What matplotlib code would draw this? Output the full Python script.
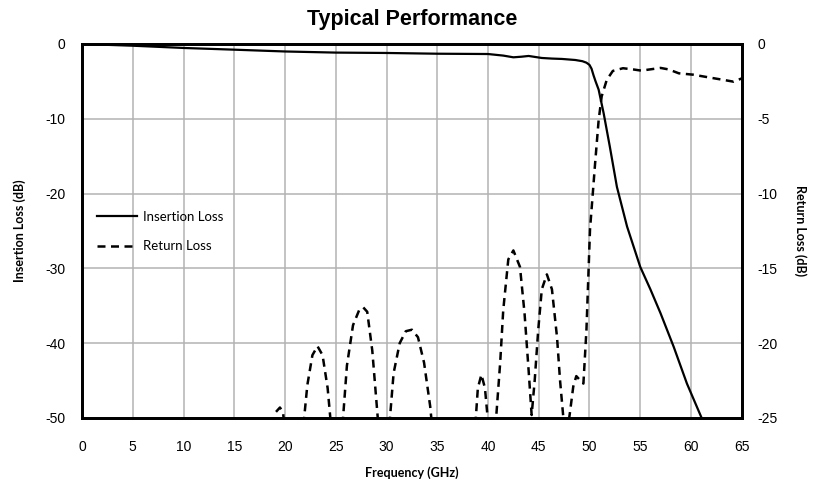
import numpy as np
import matplotlib
matplotlib.use('Agg')
import matplotlib.pyplot as plt

# insertion loss (left axis, dB)
il_freq = [0, 5, 10, 15, 20, 25, 30, 35, 40, 41.5, 42.5, 43.3, 44, 45.3, 46.3, 47.3, 48.6, 49.3, 49.7,
           50.0, 50.2, 50.4, 50.6, 50.9, 51.4, 52.0, 52.7, 53.7, 55.0, 56.0, 57.0, 58.3, 59.6, 61.05, 61.5]
il_db = [0, -0.23, -0.53, -0.76, -1.0, -1.15, -1.2, -1.3, -1.34, -1.55, -1.78, -1.7, -1.6, -1.87, -1.95,
         -2.0, -2.14, -2.3, -2.5, -2.8, -3.3, -4.2, -5.0, -6.1, -9.3, -13.7, -19.1, -24.4, -29.8, -32.8,
         -36.0, -40.5, -45.4, -50.0, -51.5]

# return loss (right axis, dB)
rl_freq = [0, 18.0, 18.7, 19.1, 19.5, 19.8, 20.1, 21.0,
           21.6, 22.2, 22.7, 23.2, 23.7, 24.2, 24.6, 25.2,
           25.5, 26.1, 26.7, 27.3, 27.7, 28.1, 28.6, 29.2, 29.5, 30.0,
           30.1, 30.7, 31.3, 31.9, 32.5, 33.1, 33.7, 34.3, 34.7, 36.0,
           38.3, 38.7, 39.0, 39.35, 39.7, 40.1, 40.5,
           40.8, 41.2, 41.5, 42.0, 42.5, 43.15, 43.6, 44.0, 44.3,
           44.6, 44.95, 45.3, 45.8, 46.3, 46.8, 47.1, 47.4, 47.7,
           48.1, 48.4, 48.7, 49.1, 49.4, 49.7, 50.05, 50.55, 50.9, 51.2, 51.7,
           52.3, 53.3, 54.3, 55.1, 57.0, 57.8, 58.8, 60.2, 61.9, 63.2, 64.2, 65.0]
rl_db = [-32, -30, -26, -24.6, -24.3, -24.6, -26.5, -32,
         -27, -22.8, -20.8, -20.2, -20.8, -23.0, -26, -30,
         -27, -21.5, -18.8, -17.8, -17.6, -17.9, -20.5, -25.5, -28, -30,
         -27, -22, -20, -19.2, -19.1, -19.6, -21.3, -24.2, -27, -35,
         -30, -26, -23, -22.1, -23, -26, -28,
         -25, -21.3, -17.8, -14.4, -13.8, -14.9, -18.0, -21.8, -24.8,
         -22.5, -19.1, -16.4, -15.4, -16.4, -19.6, -22.5, -24.8, -26.5,
         -24.5, -22.9, -22.2, -22.5, -22.7, -19.1, -12.4, -8.0, -5.1, -3.5, -2.4,
         -1.8, -1.62, -1.7, -1.78, -1.6, -1.7, -1.96, -2.05, -2.25, -2.4, -2.52, -2.3]

freq_ticks = np.arange(0, 66, 5)
il_ticks = np.arange(-50, 1, 10)
rl_ticks = np.arange(-25, 1, 5)

fig = plt.figure(figsize=(8.16, 4.91), dpi=100)
ax = fig.add_axes([0.1005, 0.1487, 0.8085, 0.7617])
ax2 = ax.twinx()

tick_font = {'family': 'Liberation Sans', 'size': 10}
label_font = {'family': 'Lato', 'size': 9, 'weight': 'bold'}

ax.plot(il_freq, il_db, color='black', lw=1.6, label='Insertion Loss', zorder=3)
ax2.plot(rl_freq, rl_db, color='black', lw=1.8, dashes=(3.2, 2.2), label='Return Loss')

ax.set_xlim(0, 65)
ax.set_ylim(-50, 0)
ax2.set_ylim(-25, 0)
ax.set_xticks(freq_ticks)
ax.set_yticks(il_ticks)
ax2.set_yticks(rl_ticks)
ax.set_xticklabels([str(t) for t in freq_ticks], fontdict=tick_font)
ax.set_yticklabels([str(t) for t in il_ticks], fontdict=tick_font)
ax2.set_yticklabels([str(t) for t in rl_ticks], fontdict=tick_font)
ax.tick_params(axis='x', length=0, pad=16)
ax.tick_params(axis='y', length=0, pad=12)
ax2.tick_params(axis='y', length=0, pad=11)

ax.grid(True, color='#b3b3b3', lw=1.1)
ax.set_axisbelow(True)
for a in (ax, ax2):
    for s in a.spines.values():
        s.set_linewidth(2.0)
        s.set_color('black')

ax.set_xlabel('Frequency (GHz)', fontdict=label_font, labelpad=9)
ax.set_ylabel('Insertion Loss (dB)', fontdict=label_font, labelpad=14)
ax2.set_ylabel('Return Loss (dB)', fontdict=label_font, rotation=270, labelpad=21)
ax.set_title('Typical Performance', family='Liberation Sans', weight='bold', size=15.5, pad=14)

h1, l1 = ax.get_legend_handles_labels()
h2, l2 = ax2.get_legend_handles_labels()
ax2.legend(h1 + h2, l1 + l2, loc='upper left', bbox_to_anchor=(0.005, 0.585), frameon=False,
           prop={'family': 'Lato', 'size': 9.5}, handlelength=3.0, handletextpad=0.45, labelspacing=1.3)

fig.savefig('out.png', dpi=100)
